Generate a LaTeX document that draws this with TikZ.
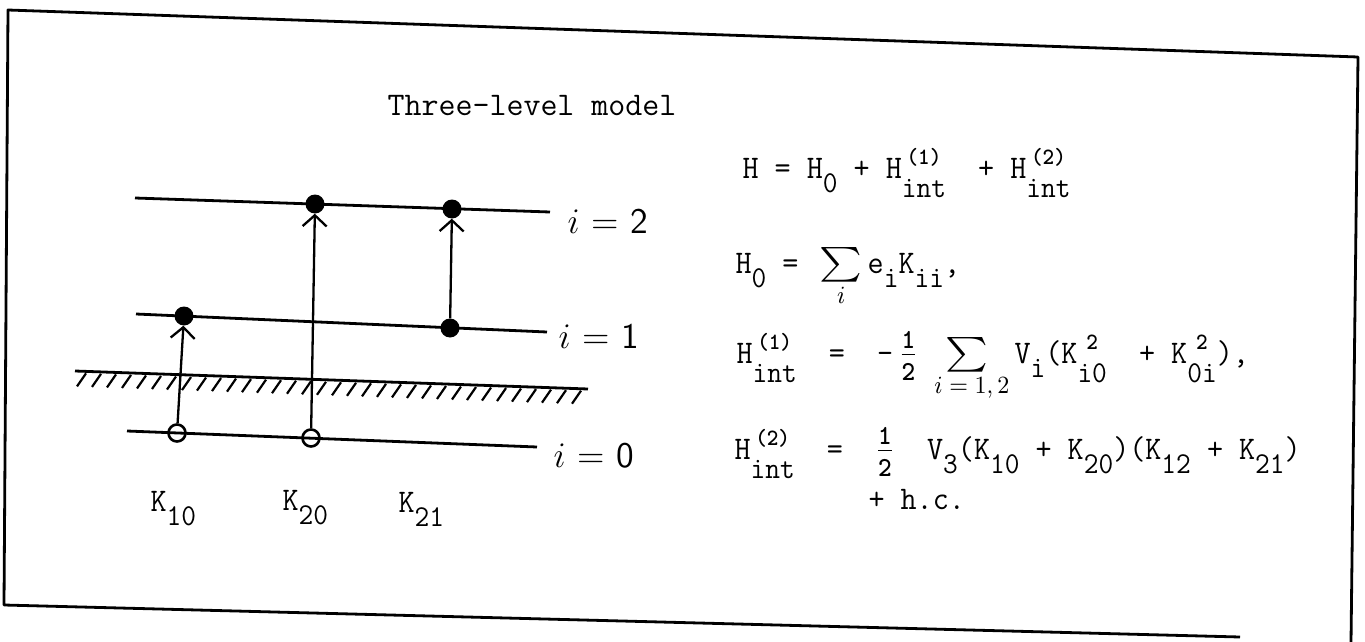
\documentclass[tikz,border=0pt]{standalone}
\usepackage{amsmath}
\usetikzlibrary{arrows.meta}
% typewriter indices
\newcommand\lo[1]{\raisebox{-0.45em}{\fontsize{11}{13}\selectfont #1}}
\newcommand\hi[1]{\raisebox{0.4em}{\fontsize{8.5}{10}\selectfont\bfseries #1}}
\newcommand\hilo[2]{\setbox0\hbox{\raisebox{-0.6em}{\fontsize{11}{13}\selectfont #2}}%
  \rlap{\makebox[\wd0][c]{\hi{#1}}}\box0}
\newcommand\half{$\frac{\hbox{\fontsize{10}{10}\selectfont\bfseries 1\rule[-1.5pt]{0pt}{1pt}}}{\hbox{\fontsize{10}{10}\selectfont\bfseries\rule{0pt}{8.5pt}2}}$}
\newcommand\bigsum{\mathop{\scalebox{1.3}[1.05]{$\textstyle\sum$}}\limits}
\newcommand\hand[1]{\hbox{\fontsize{9}{9}\selectfont$#1$}}

\begin{document}
\begin{tikzpicture}[x=1pt,y=-1pt,
  level/.style={line width=2.8pt},
  fulldot/.style={circle,fill,inner sep=0pt,minimum size=19pt},
  holedot/.style={circle,draw,line width=2.6pt,inner sep=0pt,minimum size=17pt},
  jump/.style={line width=2.3pt,-{Straight Barb[length=11pt,width=24pt,line width=2.3pt]}},
  eqn/.style={anchor=base west,inner sep=0pt,xscale=2.6,yscale=2.75,font=\fontsize{12}{14}\selectfont\ttfamily},
  lvl/.style={anchor=base west,inner sep=0pt,scale=2.5,font=\fontsize{14.4}{17}\selectfont\sffamily}]
  \useasboundingbox (0,0) rectangle (1365,642);
  % frame of the scanned page
  \draw[line width=2.8pt,line join=round] (1240,637) -- (4,605) -- (8,10) -- (1358,57) -- (1351,642);
  \node[anchor=base,inner sep=0pt,xscale=2.75,yscale=2.75,font=\fontsize{12}{14}\selectfont\ttfamily] (title) at (532,115) {Three-level model};

  % levels
  \coordinate (a2) at (135,198); \coordinate (b2) at (550,212);
  \coordinate (a1) at (136,314); \coordinate (b1) at (547,332);
  \coordinate (a0) at (127,431); \coordinate (b0) at (537,447);
  \coordinate (ha) at (75,371);  \coordinate (hb) at (588,389);
  \draw[level] (a2) -- (b2);
  \draw[level] (a1) -- (b1);
  \draw[level] (a0) -- (b0);
  \draw[level] (ha) -- (hb);
  \foreach \k in {0,...,33}
    \draw[line width=2.2pt] ({86+15*\k},{373+0.035*(11+15*\k)}) -- ++(-9,13);
  \node[lvl] (i2) at (567,233) {$i$ = 2};
  \node[lvl] (i1) at (558,348) {$i$ = 1};
  \node[lvl] (i0) at (553,467) {$i$ = 0};

  % transitions
  \node[holedot] (o10) at (177,433) {};
  \node[holedot] (o20) at (311,438) {};
  \node[fulldot] (d10) at (184,316) {};
  \node[fulldot] (d20) at (315,204) {};
  \node[fulldot] (d21) at (452,209) {};
  \node[fulldot] (s21) at (450,328) {};
  \draw[jump] (o10) -- (d10);
  \draw[jump] (o20) -- (d20);
  \draw[jump] (s21) -- (d21);
  \node[eqn] (k10) at (150,511) {K\lo{10}};
  \node[eqn] (k20) at (282,510) {K\lo{20}};
  \node[eqn] (k21) at (398,512) {K\lo{21}};

  % hamiltonian
  \node[eqn] (h) at (742,178) {H~=~H\lo{0}~+~H\hilo{(1)}{int}~~+~H\hilo{(2)}{int}};
  \node[eqn] (h0) at (735,273) {H\lo{0}~=~\,$\bigsum_{\hand{i}}$\,e\lo{i}K\lo{ii},};
  \node[eqn] (h1) at (736,363) {H\hilo{(1)}{int}~~=~~-\,\half~$\bigsum_{\hand{i=1,2}}$\,V\lo{i}(K\hilo{2}{i0}~~+~K\hilo{2}{0i}),};
  \node[eqn] (h2) at (734,459) {H\hilo{(2)}{int}~~=~~\half~~V\lo{3}(K\lo{10}~+~K\lo{20})(K\lo{12}~+~K\lo{21})};
  \node[eqn] (hc) at (868,509) {+ h.c.};
\end{tikzpicture}
\end{document}
